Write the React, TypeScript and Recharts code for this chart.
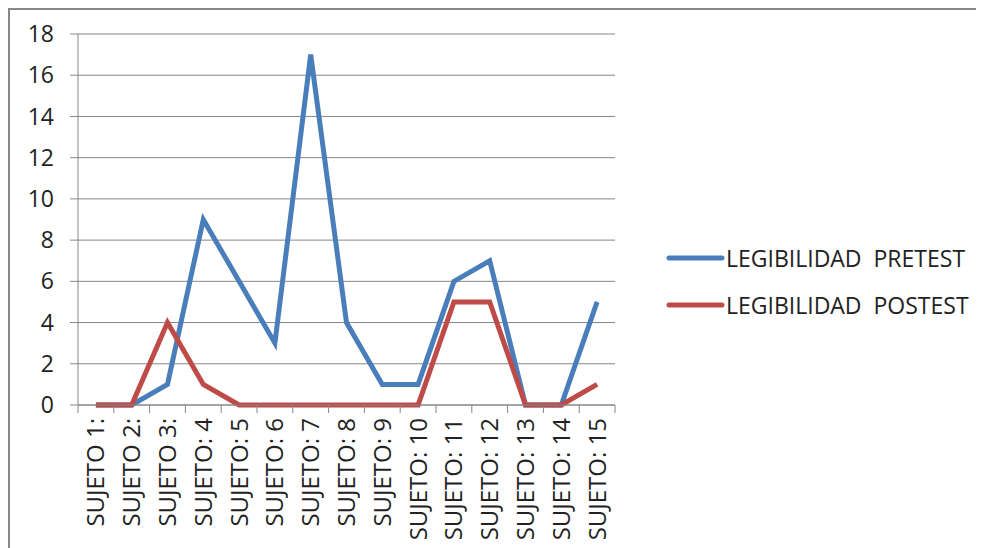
import React from 'react';
import { LineChart, Line, XAxis, YAxis, CartesianGrid } from 'recharts';

const categories = [
  'SUJETO 1:', 'SUJETO 2:', 'SUJETO 3:', 'SUJETO: 4', 'SUJETO: 5', 'SUJETO: 6', 'SUJETO: 7', 'SUJETO: 8',
  'SUJETO: 9', 'SUJETO: 10', 'SUJETO: 11', 'SUJETO: 12', 'SUJETO: 13', 'SUJETO: 14', 'SUJETO: 15',
];
const pretest = [0, 0, 1, 9, 6, 3, 17, 4, 1, 1, 6, 7, 0, 0, 5];
const postest = [0, 0, 4, 1, 0, 0, 0, 0, 0, 0, 5, 5, 0, 0, 1];
const yTicks = [0, 2, 4, 6, 8, 10, 12, 14, 16, 18];

const data = categories.map((name, i) => ({ name, pre: pretest[i], post: postest[i] }));

const FONT = '"Open Sans", sans-serif';
const GRID = '#868686';
const BLUE = '#4A7EBB';
const RED = '#BE4B48';

const W = 974;
const H = 538;
const PLOT_LEFT = 68;
const PLOT_RIGHT = 605;
const PLOT_TOP = 24;
const PLOT_BOTTOM = 395;
const band = (PLOT_RIGHT - PLOT_LEFT) / categories.length;

function XTick(props: any) {
  const { x, y, payload, index } = props;
  return (
    <g>
      <line x1={x - band / 2} x2={x - band / 2} y1={PLOT_BOTTOM} y2={PLOT_BOTTOM + 8} stroke={GRID} />
      {index === categories.length - 1 && (
        <line x1={x + band / 2} x2={x + band / 2} y1={PLOT_BOTTOM} y2={PLOT_BOTTOM + 8} stroke={GRID} />
      )}
      <text
        x={0}
        y={0}
        transform={`translate(${x + 8.5},${PLOT_BOTTOM + 13}) rotate(-90)`}
        textAnchor="end"
        fontSize={24}
        fontFamily={FONT}
        fill="#222"
      >
        {payload.value}
      </text>
    </g>
  );
}

const legendItems = [
  { label: 'LEGIBILIDAD  PRETEST', color: BLUE },
  { label: 'LEGIBILIDAD  POSTEST', color: RED },
];

function LegendBox() {
  return (
    <div style={{ position: 'absolute', left: 656, top: 224 }}>
      {legendItems.map((it) => (
        <div key={it.label} style={{ display: 'flex', alignItems: 'center', height: 47 }}>
          <svg width={60} height={10}>
            <line x1={3} x2={56} y1={5} y2={5} stroke={it.color} strokeWidth={5} strokeLinecap="round" />
          </svg>
          <span style={{ fontFamily: FONT, fontSize: 23, color: '#222', whiteSpace: 'pre' }}>
            {it.label}
          </span>
        </div>
      ))}
    </div>
  );
}

export default function App() {
  return (
    <div
      style={{
        position: 'relative',
        width: W,
        height: H,
        borderTop: `2px solid ${GRID}`,
        borderLeft: `2px solid ${GRID}`,
        background: '#fff',
      }}
    >
      <LineChart
        width={W}
        height={H}
        data={data}
        margin={{ top: PLOT_TOP, right: W - PLOT_RIGHT, bottom: 0, left: 0 }}
      >
        <CartesianGrid vertical={false} stroke={GRID} strokeWidth={1} />
        <YAxis
          width={PLOT_LEFT}
          domain={[0, 18]}
          ticks={yTicks}
          axisLine={{ stroke: GRID }}
          tickLine={{ stroke: GRID }}
          tickSize={8}
          tick={{ fontSize: 23, fontFamily: FONT, fill: '#222' }}
          tickMargin={16}
        />
        <XAxis
          dataKey="name"
          height={H - PLOT_BOTTOM}
          interval={0}
          padding={{ left: band / 2, right: band / 2 }}
          axisLine={{ stroke: GRID }}
          tickLine={false}
          tick={<XTick />}
        />
        <Line dataKey="pre" stroke={BLUE} strokeWidth={5} dot={false} isAnimationActive={false} />
        <Line dataKey="post" stroke={RED} strokeWidth={5} dot={false} isAnimationActive={false} />
      </LineChart>
      <LegendBox />
    </div>
  );
}
